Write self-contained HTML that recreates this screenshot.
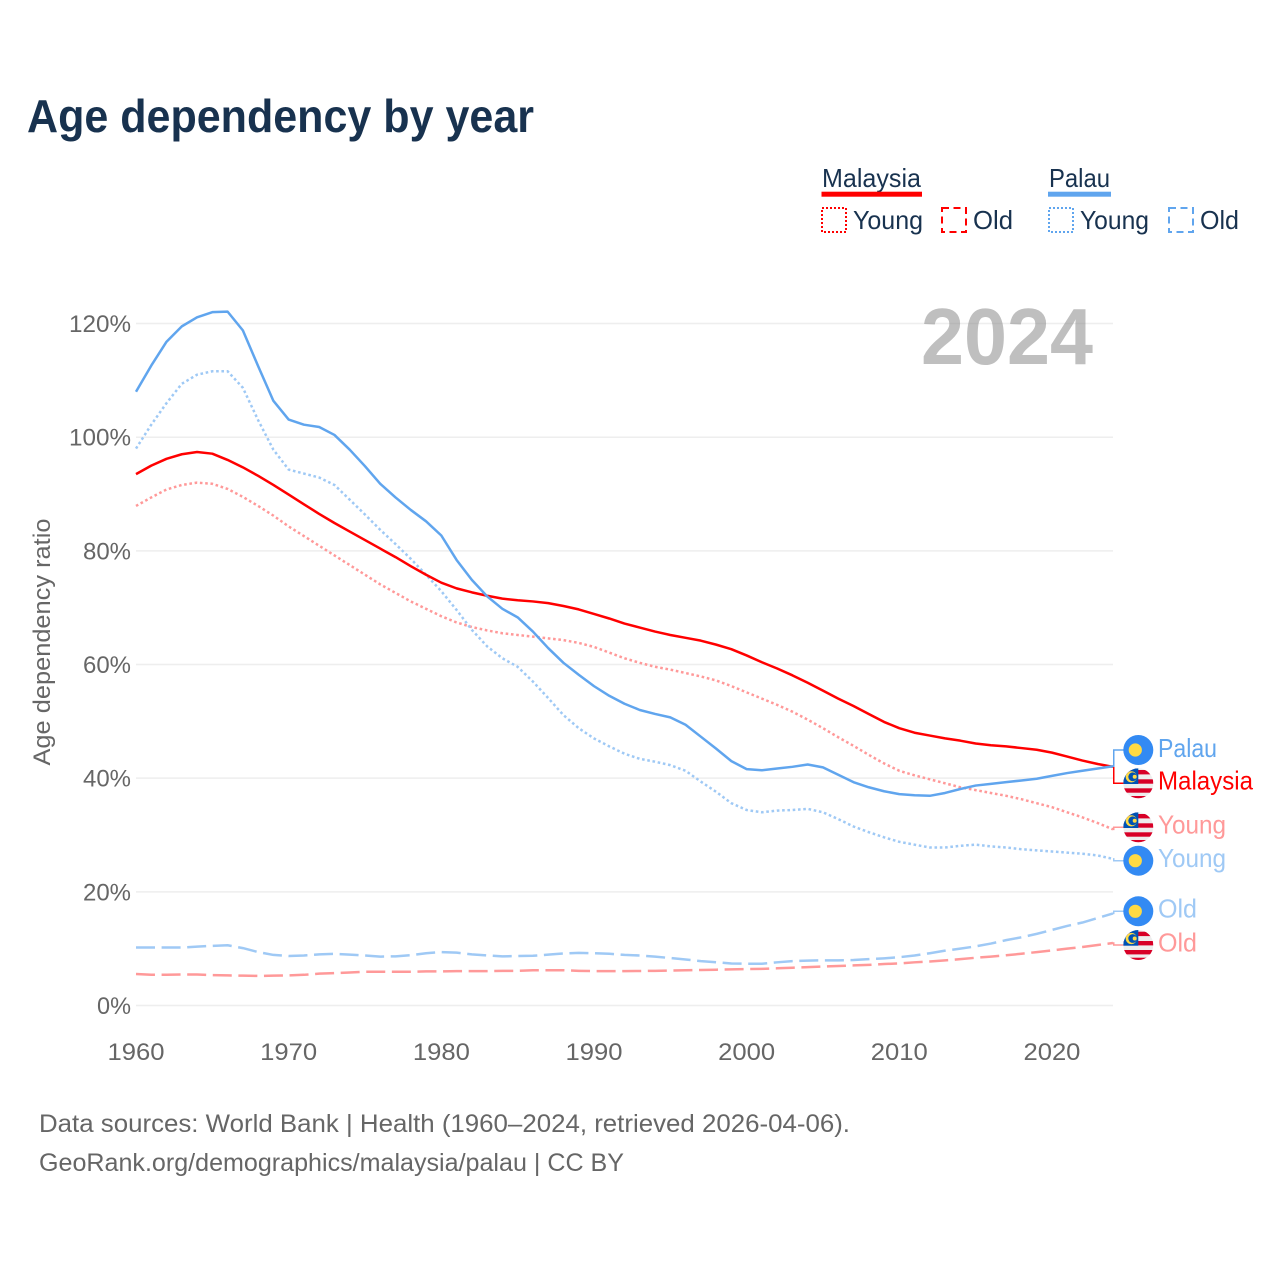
<!DOCTYPE html>
<html lang="en">
<head>
<meta charset="utf-8">
<title>Age dependency by year</title>
<style>
  html, body { margin: 0; padding: 0; background: #ffffff; }
  svg { display: block; font-family: "Liberation Sans", sans-serif; }
</style>
</head>
<body>
<svg id="chart" xmlns="http://www.w3.org/2000/svg" width="1280" height="1280" viewBox="0 0 1280 1280">
  <rect x="0" y="0" width="1280" height="1280" fill="#ffffff"/>
  <text x="27" y="132" font-size="46" font-weight="bold" fill="#18324f" textLength="507" lengthAdjust="spacingAndGlyphs">Age dependency by year</text>

  <g font-size="26" fill="#18324f">
    <text x="822" y="187" textLength="99" lengthAdjust="spacingAndGlyphs">Malaysia</text>
    <rect x="821.5" y="191.7" width="100.5" height="5" fill="#ff0000"/>
    <rect x="822" y="208" width="24" height="24" fill="none" stroke="#ff0000" stroke-width="2" stroke-dasharray="2 2"/>
    <text x="853" y="229" textLength="70" lengthAdjust="spacingAndGlyphs">Young</text>
    <rect x="942" y="208" width="24" height="24" fill="none" stroke="#ff0000" stroke-width="2" stroke-dasharray="7 4.5"/>
    <text x="973" y="229" textLength="40" lengthAdjust="spacingAndGlyphs">Old</text>

    <text x="1049" y="187" textLength="61" lengthAdjust="spacingAndGlyphs">Palau</text>
    <rect x="1048" y="191.7" width="63" height="5" fill="#60a5ee"/>
    <rect x="1049" y="208" width="24" height="24" fill="none" stroke="#60a5ee" stroke-width="2" stroke-dasharray="2 2"/>
    <text x="1080" y="229" textLength="69" lengthAdjust="spacingAndGlyphs">Young</text>
    <rect x="1169" y="208" width="24" height="24" fill="none" stroke="#60a5ee" stroke-width="2" stroke-dasharray="7 4.5"/>
    <text x="1200" y="229" textLength="39" lengthAdjust="spacingAndGlyphs">Old</text>
  </g>

  <text transform="translate(50,642) rotate(-90)" text-anchor="middle" font-size="24" fill="#666666" textLength="247" lengthAdjust="spacingAndGlyphs">Age dependency ratio</text>

  <g id="grid"></g>
  <g id="yticks"></g>
  <g id="xticks"></g>
  <text x="921" y="364" font-size="80" font-weight="bold" fill="#808080" fill-opacity="0.5" textLength="172" lengthAdjust="spacingAndGlyphs">2024</text>
  <g id="series"></g>
  <g id="ends"></g>

  <g font-size="25" fill="#666666">
    <text x="39" y="1132" textLength="811" lengthAdjust="spacingAndGlyphs">Data sources: World Bank | Health (1960–2024, retrieved 2026-04-06).</text>
    <text x="39" y="1171" textLength="585" lengthAdjust="spacingAndGlyphs">GeoRank.org/demographics/malaysia/palau | CC BY</text>
  </g>
</svg>

<script>
const years = [
  1960,1961,1962,1963,1964,1965,1966,1967,1968,1969,
  1970,1971,1972,1973,1974,1975,1976,1977,1978,1979,
  1980,1981,1982,1983,1984,1985,1986,1987,1988,1989,
  1990,1991,1992,1993,1994,1995,1996,1997,1998,1999,
  2000,2001,2002,2003,2004,2005,2006,2007,2008,2009,
  2010,2011,2012,2013,2014,2015,2016,2017,2018,2019,
  2020,2021,2022,2023,2024
];
const palauTotal = [
  108.0,112.6,116.8,119.5,121.1,122.0,122.1,118.8,112.5,106.4,
  103.1,102.2,101.8,100.4,97.8,94.9,91.8,89.4,87.2,85.2,
  82.7,78.4,74.9,72.0,69.8,68.3,65.8,62.9,60.3,58.2,
  56.2,54.5,53.1,52.0,51.3,50.7,49.4,47.3,45.2,43.0,
  41.6,41.4,41.7,42.0,42.4,41.9,40.6,39.3,38.4,37.7,
  37.2,37.0,36.9,37.4,38.1,38.7,39.0,39.3,39.6,39.9,
  40.4,40.9,41.3,41.7,42.1
];
const malaysiaTotal = [
  93.5,95,96.2,97,97.4,97.1,96,94.7,93.2,91.6,
  89.9,88.2,86.5,84.9,83.4,81.9,80.4,78.9,77.3,75.8,
  74.4,73.4,72.7,72.1,71.6,71.3,71.1,70.8,70.3,69.7,
  68.9,68.1,67.2,66.5,65.8,65.2,64.7,64.2,63.5,62.7,
  61.6,60.4,59.3,58.1,56.8,55.4,54,52.7,51.3,49.9,
  48.8,48,47.5,47,46.6,46.1,45.8,45.6,45.3,45,
  44.5,43.8,43.1,42.5,42
];
const palauYoung = [
  98,102.2,106,109.4,111,111.6,111.6,108.7,103,97.8,
  94.3,93.6,92.9,91.6,89,86.4,83.7,81.2,78.6,75.8,
  72.9,69.6,66.1,63.2,61.1,59.6,57,54.1,51.1,48.8,
  47,45.6,44.3,43.4,42.9,42.3,41.3,39.4,37.6,35.6,
  34.4,34,34.3,34.4,34.6,34,32.8,31.5,30.5,29.6,
  28.8,28.3,27.8,27.8,28.1,28.3,28,27.8,27.5,27.3,
  27.1,26.9,26.7,26.4,25.8
];
const malaysiaYoung = [
  87.9,89.4,90.8,91.6,92,91.8,90.9,89.5,87.9,86.2,
  84.3,82.6,80.9,79.2,77.5,75.8,74.1,72.6,71.1,69.8,
  68.5,67.4,66.6,66,65.5,65.2,64.9,64.6,64.3,63.8,
  63.1,62.1,61.1,60.3,59.6,59.1,58.5,57.9,57.2,56.2,
  55.1,54,52.9,51.7,50.3,48.8,47.2,45.7,44.1,42.6,
  41.3,40.5,39.8,39.1,38.4,37.9,37.4,36.9,36.3,35.6,
  34.9,34,33.1,32.1,31
];
const palauOld = [
  10.2,10.2,10.2,10.2,10.35,10.5,10.6,10.1,9.4,8.9,
  8.7,8.8,9,9.1,8.95,8.8,8.6,8.65,8.85,9.2,
  9.4,9.3,9,8.8,8.65,8.7,8.75,8.95,9.15,9.25,
  9.2,9.1,8.9,8.8,8.6,8.35,8.1,7.8,7.6,7.4,
  7.35,7.35,7.6,7.8,7.9,7.95,7.95,8,8.15,8.3,
  8.5,8.8,9.2,9.65,10,10.4,10.9,11.5,12,12.6,
  13.3,14,14.6,15.4,16.2
];
const malaysiaOld = [
  5.55,5.4,5.4,5.45,5.45,5.35,5.3,5.25,5.2,5.25,
  5.3,5.4,5.6,5.7,5.8,5.95,5.95,5.95,5.95,6,
  6,6.05,6.05,6.05,6.1,6.1,6.2,6.2,6.2,6.1,
  6.05,6.05,6.05,6.07,6.1,6.15,6.2,6.25,6.3,6.35,
  6.4,6.45,6.55,6.65,6.75,6.85,6.95,7.05,7.15,7.3,
  7.4,7.6,7.75,7.95,8.15,8.4,8.6,8.85,9.1,9.4,
  9.7,10,10.3,10.65,11
];
const yTickValues = [0,20,40,60,80,100,120];
const yTickLabels = ["0%","20%","40%","60%","80%","100%","120%"];
const xTickValues = [1960,1970,1980,1990,2000,2010,2020];
const xTickLabels = ["1960","1970","1980","1990","2000","2010","2020"];

const NS = "http://www.w3.org/2000/svg";
function xScale(year) { return 136 + (year - 1960) * (1113 - 136) / 64; }
function yScale(v) { return 1005.5 - v * 5.683; }
function make(tag, attrs, parent) {
  const el = document.createElementNS(NS, tag);
  for (const k in attrs) el.setAttribute(k, attrs[k]);
  if (parent) parent.appendChild(el);
  return el;
}

const gridG = document.getElementById("grid");
const yG = document.getElementById("yticks");
const xG = document.getElementById("xticks");
yTickValues.forEach(function (v, i) {
  const line = make("line", { x1: 136, x2: 1113, y1: yScale(v), y2: yScale(v), stroke: "#eeeeee", "stroke-width": 1.5 }, gridG);
  
  
  const label = yTickLabels[i];
  const t = make("text", { x: 131, y: yScale(v) + 8.5, "text-anchor": "end", "font-size": 24, fill: "#666666", textLength: 14 * (label.length - 1) + 20, lengthAdjust: "spacingAndGlyphs" }, yG);
  t.textContent = label;
  
  
});
xTickValues.forEach(function (v, i) {
  const t = make("text", { x: xScale(v), y: 1060, "text-anchor": "middle", "font-size": 24, fill: "#666666", textLength: 57, lengthAdjust: "spacingAndGlyphs" }, xG);
  t.textContent = xTickLabels[i];
  
  
});

function drawLine(values, color, dash, name) {
  const pts = values.map(function (v, i) { return xScale(years[i]).toFixed(2) + "," + yScale(v).toFixed(2); }).join(" ");
  const attrs = { points: pts, fill: "none", stroke: color, "stroke-width": 2.5, "stroke-linejoin": "round" };
  if (dash) attrs["stroke-dasharray"] = dash;
  const el = make("polyline", attrs, document.getElementById("series"));
  
  
}
const DOT = "2.6 2.7";
const DASH = "19 6.6";
drawLine(malaysiaOld, "#ff9999", DASH, "malaysia-old-line");
drawLine(palauOld, "#9fc9f5", DASH, "palau-old-line");
drawLine(malaysiaYoung, "#ff9999", DOT, "malaysia-young-line");
drawLine(palauYoung, "#9fc9f5", DOT, "palau-young-line");
drawLine(malaysiaTotal, "#ff0000", null, "malaysia-total-line");
drawLine(palauTotal, "#60a5ee", null, "palau-total-line");

function palauFlag(parent, cx, cy) {
  const g = make("g", { transform: "translate(" + cx + "," + cy + ")" }, parent);
  
  
  make("circle", { cx: 0, cy: 0, r: 15, fill: "#338af3" }, g);
  make("circle", { cx: -3, cy: 0, r: 6.6, fill: "#ffda44" }, g);
}
function malaysiaFlag(parent, cx, cy, clipId) {
  const g = make("g", { transform: "translate(" + cx + "," + cy + ")" }, parent);
  
  
  const clip = make("clipPath", { id: clipId }, g);
  make("circle", { cx: 0, cy: 0, r: 15 }, clip);
  const inner = make("g", { "clip-path": "url(#" + clipId + ")" }, g);
  make("rect", { x: -15, y: -15, width: 30, height: 30, fill: "#eeeeee" }, inner);
  [-13.3, -4, 5, 12.7].forEach(function (top, i) {
    make("rect", { x: -15, y: top, width: 30, height: i === 3 ? 3 : 4.4, fill: "#d80027" }, inner);
  });
  make("rect", { x: -15, y: -15, width: 15, height: 15.7, fill: "#0052b4" }, inner);
  make("circle", { cx: -7, cy: -6.5, r: 5.6, fill: "#ffda44" }, inner);
  make("circle", { cx: -5.6, cy: -6.5, r: 4.4, fill: "#0052b4" }, inner);
  make("circle", { cx: -3.6, cy: -6.5, r: 2, fill: "#ffda44" }, inner);
}
function endLabel(values, flagY, textY, color, lineColor, text, width, flagFn, name, clipId) {
  const ends = document.getElementById("ends");
  const x0 = xScale(years[years.length - 1]);
  const y0 = yScale(values[values.length - 1]);
  const c = make("path", { d: "M" + x0 + " " + y0 + "L" + (x0 + 0.75) + " " + y0 + "V" + flagY + "H1124", fill: "none", stroke: lineColor, "stroke-width": 1.5 }, ends);
  
  
  flagFn(ends, 1138.3, flagY, clipId);
  const t = make("text", { x: 1158, y: textY, "font-size": 26, fill: color, textLength: width, lengthAdjust: "spacingAndGlyphs" }, ends);
  t.textContent = text;
  
  
}
endLabel(malaysiaTotal, 783.3, 789.5, "#ff0000", "#ff0000", "Malaysia", 95, malaysiaFlag, "malaysia-total", "clip-m1");
endLabel(palauTotal, 750, 757, "#60a5ee", "#60a5ee", "Palau", 59, palauFlag, "palau-total");
endLabel(malaysiaYoung, 827.3, 833.5, "#ff9999", "#ff9999", "Young", 68, malaysiaFlag, "malaysia-young", "clip-m2");
endLabel(palauYoung, 860.7, 867, "#9fc9f5", "#9fc9f5", "Young", 68, palauFlag, "palau-young");
endLabel(palauOld, 911.3, 917.5, "#9fc9f5", "#9fc9f5", "Old", 39, palauFlag, "palau-old");
endLabel(malaysiaOld, 945, 951.5, "#ff9999", "#ff9999", "Old", 39, malaysiaFlag, "malaysia-old", "clip-m3");
</script>
</body>
</html>
